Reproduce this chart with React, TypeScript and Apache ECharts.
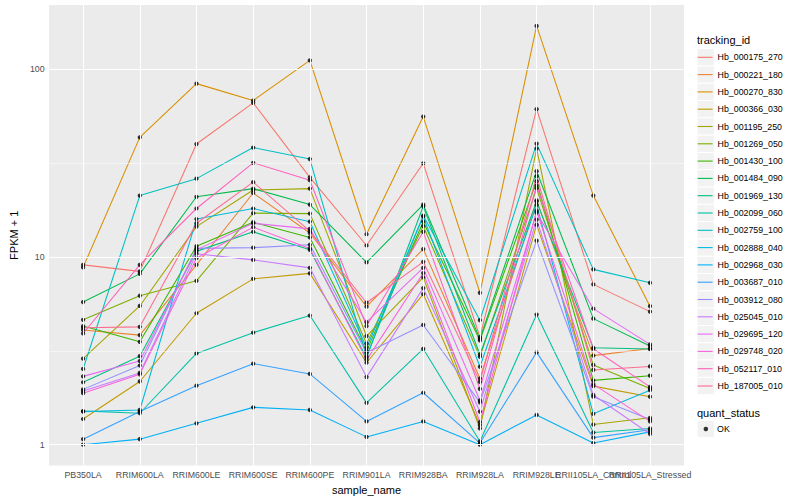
import React, { useEffect, useRef } from "react";
import * as echarts from "echarts";

const categories = [
  "PB350LA", "RRIM600LA", "RRIM600LE", "RRIM600SE", "RRIM600PE", "RRIM901LA",
  "RRIM928BA", "RRIM928LA", "RRIM928LE", "RRII105LA_Control", "RRII105LA_Stressed",
];

const trackingIds = [
  "Hb_000175_270", "Hb_000221_180", "Hb_000270_830", "Hb_000366_030", "Hb_001195_250",
  "Hb_001269_050", "Hb_001430_100", "Hb_001484_090", "Hb_001969_130", "Hb_002099_060",
  "Hb_002759_100", "Hb_002888_040", "Hb_002968_030", "Hb_003687_010", "Hb_003912_080",
  "Hb_025045_010", "Hb_029695_120", "Hb_029748_020", "Hb_052117_010", "Hb_187005_010",
];

const palette = [
  "#F8766D", "#EA8331", "#D89000", "#C09B00", "#A3A500", "#7CAE00", "#39B600", "#00BB4E",
  "#00BF7D", "#00C1A3", "#00BFC4", "#00BAE0", "#00B0F6", "#35A2FF", "#9590FF", "#C77CFF",
  "#E76BF3", "#FA62DB", "#FF62BC", "#FF6C91",
];

// FPKM + 1 values, one array per tracking_id, in category order
const hb_000175_270 = [9.07, 8.37, 39.9, 66.1, 26.5, 11.5, 31.5, 3.74, 61.2, 7.14, 5.11];
const hb_000221_180 = [4.08, 3.83, 9.07, 21.9, 13.4, 5.43, 11.0, 2.25, 20.0, 2.98, 3.25];
const hb_000270_830 = [8.79, 43.3, 83.7, 68.0, 111.3, 13.2, 55.9, 6.44, 169.8, 21.2, 5.46];
const hb_000366_030 = [1.37, 2.17, 5.01, 7.64, 8.17, 2.73, 6.34, 1.27, 14.8, 2.05, 1.80];
const hb_001195_250 = [2.87, 5.48, 14.5, 22.7, 23.1, 3.78, 7.78, 1.22, 37.7, 1.28, 1.39];
const hb_001269_050 = [4.62, 6.21, 7.46, 17.1, 17.0, 3.45, 14.6, 2.94, 23.2, 2.66, 1.99];
const hb_001430_100 = [4.28, 3.53, 11.4, 15.3, 12.7, 3.15, 15.4, 3.59, 25.3, 2.20, 2.33];
const hb_001484_090 = [5.75, 8.12, 20.9, 23.1, 19.0, 9.34, 18.96, 3.66, 28.6, 4.69, 3.35];
const hb_001969_130 = [2.15, 2.96, 10.7, 13.6, 10.9, 2.9, 18.6, 3.02, 19.7, 3.28, 3.23];
const hb_002099_060 = [1.51, 1.47, 3.06, 3.95, 4.87, 1.67, 3.24, 1.04, 4.93, 1.16, 1.22];
const hb_002759_100 = [2.53, 21.2, 26.1, 38.2, 33.2, 2.96, 16.6, 4.60, 40.1, 8.58, 7.28];
const hb_002888_040 = [1.50, 1.53, 15.9, 18.1, 15.4, 3.28, 16.4, 2.60, 18.9, 1.46, 1.95];
const hb_002968_030 = [1.0, 1.07, 1.30, 1.58, 1.53, 1.10, 1.33, 1.0, 1.44, 1.02, 1.17];
const hb_003687_010 = [1.07, 1.50, 2.06, 2.70, 2.38, 1.33, 1.89, 1.02, 3.10, 1.09, 1.20];
const hb_003912_080 = [1.97, 2.64, 11.1, 11.2, 11.6, 3.09, 4.34, 1.68, 12.2, 1.80, 1.36];
const hb_025045_010 = [1.93, 2.41, 10.4, 9.64, 8.74, 2.29, 6.82, 1.50, 15.8, 1.84, 1.14];
const hb_029695_120 = [2.31, 2.79, 10.9, 15.1, 14.1, 4.49, 8.74, 1.72, 17.2, 5.30, 3.42];
const hb_029748_020 = [1.88, 2.37, 9.84, 14.4, 11.1, 2.82, 8.20, 1.32, 17.6, 2.10, 1.33];
const hb_052117_010 = [3.91, 9.07, 18.1, 31.7, 25.6, 4.28, 13.6, 1.98, 24.0, 3.24, 2.03];
const hb_187005_010 = [4.19, 4.24, 15.1, 25.0, 13.7, 5.70, 9.41, 2.16, 26.9, 2.50, 2.61];

const seriesValues = [
  hb_000175_270, hb_000221_180, hb_000270_830, hb_000366_030, hb_001195_250,
  hb_001269_050, hb_001430_100, hb_001484_090, hb_001969_130, hb_002099_060,
  hb_002759_100, hb_002888_040, hb_002968_030, hb_003687_010, hb_003912_080,
  hb_025045_010, hb_029695_120, hb_029748_020, hb_052117_010, hb_187005_010,
];

const yTickValues = [1, 10, 100];
const quantStatus = ["OK"];

export default function App() {
  const ref = useRef<HTMLDivElement>(null);

  useEffect(() => {
    if (!ref.current) return;
    const chart = echarts.init(ref.current, null, { renderer: "svg" });
    const font = '"Liberation Sans", Arial, Helvetica, sans-serif';

    const logs = seriesValues.flat().map((v) => Math.log10(v));
    const lo = Math.min(...logs);
    const hi = Math.max(...logs);
    const pad = (hi - lo) * 0.05;
    const yMin = lo - pad;
    const yMax = hi + pad;

    const majorY = yTickValues.map((v) => Math.log10(v));
    const minorY: number[] = [];
    for (let i = 0; i < majorY.length - 1; i++) minorY.push((majorY[i] + majorY[i + 1]) / 2);
    const xIdx = categories.map((_, i) => i);
    // ECharts drops one of two overlapping end labels on a single axis, so the
    // second-to-last category label is carried by a twin axis (same scale).
    const twinIdx = [categories.length - 2];
    const mainIdx = xIdx.filter((i) => !twinIdx.includes(i));

    const gridLines = [
      ...minorY.map((v) => ({ yAxis: v, lineStyle: { width: 0.53 } })),
      ...majorY.map((v) => ({ yAxis: v, lineStyle: { width: 1.07 } })),
      ...xIdx.map((i) => ({ xAxis: i, lineStyle: { width: 1.07 } })),
    ];

    const lineSeries = seriesValues.map((vals, s) => ({
      name: trackingIds[s],
      type: "line",
      z: 2,
      data: vals.map((v, i) => [i, Math.log10(v)]),
      symbol: "none",
      lineStyle: { color: palette[s], width: 1.07 },
      itemStyle: { color: palette[s] },
      emphasis: { disabled: true },
      silent: true,
    }));

    const points: number[][] = [];
    seriesValues.forEach((vals) => vals.forEach((v, i) => points.push([i, Math.log10(v)])));

    const keyTop0 = 48.65;
    const keyStep = 17.3;
    const keyRects = trackingIds.map((_, i) => ({
      type: "rect",
      z: 0,
      shape: { x: 697, y: keyTop0 + i * keyStep, width: 17.3, height: 17.3 },
      style: { fill: "#F2F2F2", stroke: "#FFFFFF", lineWidth: 1 },
      silent: true,
    }));

    const xLabelStyle = {
      show: true,
      formatter: (v: number) => categories[Math.round(v)] ?? "",
      fontFamily: font,
      fontSize: 8.8,
      color: "#4D4D4D",
      margin: 4.5,
      hideOverlap: false,
      showMinLabel: true,
      showMaxLabel: true,
    };

    chart.setOption({
      animation: false,
      backgroundColor: "#FFFFFF",
      textStyle: { fontFamily: font },
      grid: {
        left: 40,
        top: 5,
        width: 644,
        height: 463,
        show: true,
        backgroundColor: "#EBEBEB",
        borderWidth: 0,
      },
      xAxis: [
        {
          type: "value",
          position: "bottom",
          min: -0.6,
          max: categories.length - 1 + 0.6,
          name: "sample_name",
          nameLocation: "middle",
          nameGap: 15,
          nameTextStyle: { fontFamily: font, fontSize: 11, color: "#000000" },
          axisLine: { show: false },
          axisTick: {
            show: true,
            customValues: xIdx,
            length: 2.75,
            lineStyle: { color: "#333333", width: 1.07 },
          },
          axisLabel: { ...xLabelStyle, customValues: mainIdx },
          splitLine: { show: false },
        },
        {
          type: "value",
          position: "bottom",
          min: -0.6,
          max: categories.length - 1 + 0.6,
          axisLine: { show: false },
          axisTick: { show: false },
          axisLabel: { ...xLabelStyle, customValues: twinIdx },
          splitLine: { show: false },
        },
      ],
      yAxis: {
        type: "value",
        min: yMin,
        max: yMax,
        name: "FPKM + 1",
        nameLocation: "middle",
        nameRotate: 90,
        nameGap: 22,
        nameTextStyle: { fontFamily: font, fontSize: 11, color: "#000000" },
        axisLine: { show: false },
        axisTick: {
          show: true,
          customValues: majorY,
          length: 2.75,
          lineStyle: { color: "#333333", width: 1.07 },
        },
        axisLabel: {
          show: true,
          customValues: majorY,
          formatter: (v: number) => String(Math.round(Math.pow(10, v))),
          fontFamily: font,
          fontSize: 8.8,
          color: "#4D4D4D",
          margin: 4.5,
          showMinLabel: true,
          showMaxLabel: true,
        },
        splitLine: { show: false },
      },
      legend: [
        {
          orient: "vertical",
          left: 697.6,
          top: keyTop0 + 0.15,
          padding: 0,
          itemGap: 0.3,
          itemWidth: 15,
          itemHeight: 1.1,
          icon: "rect",
          selectedMode: false,
          z: 10,
          textStyle: { fontFamily: font, fontSize: 8.8, color: "#000000", lineHeight: 17 },
          data: trackingIds.map((id, i) => ({ name: id, itemStyle: { color: palette[i] } })),
        },
        {
          orient: "vertical",
          left: 703.6,
          top: 420.5,
          padding: 0,
          itemWidth: 4.5,
          itemHeight: 4.5,
          icon: "circle",
          selectedMode: false,
          z: 10,
          textStyle: { fontFamily: font, fontSize: 8.8, color: "#000000", lineHeight: 17, padding: [0, 0, 0, 4] },
          data: quantStatus.map((q) => ({ name: q, itemStyle: { color: "#000000" } })),
        },
      ],
      graphic: [
        ...keyRects,
        {
          type: "rect",
          z: 0,
          shape: { x: 697, y: 420.35, width: 17.3, height: 17.3 },
          style: { fill: "#F2F2F2", stroke: "#FFFFFF", lineWidth: 1 },
          silent: true,
        },
        {
          type: "text",
          z: 10,
          x: 697,
          y: 40,
          style: {
            text: "tracking_id",
            fontFamily: font,
            fontSize: 11,
            fill: "#000000",
            textVerticalAlign: "middle",
            verticalAlign: "middle",
          },
        },
        {
          type: "text",
          z: 10,
          x: 697,
          y: 412.5,
          style: {
            text: "quant_status",
            fontFamily: font,
            fontSize: 11,
            fill: "#000000",
            textVerticalAlign: "middle",
            verticalAlign: "middle",
          },
        },
      ],
      series: [
        {
          name: "__grid",
          type: "line",
          z: 1,
          data: [],
          silent: true,
          markLine: {
            silent: true,
            symbol: ["none", "none"],
            label: { show: false },
            emphasis: { disabled: true },
            lineStyle: { color: "#FFFFFF", type: "solid" },
            data: gridLines,
          },
        },
        ...lineSeries,
        {
          name: "OK",
          type: "scatter",
          z: 3,
          data: points,
          symbol: "circle",
          symbolSize: 4.3,
          itemStyle: { color: "#000000" },
          emphasis: { disabled: true },
          silent: true,
        },
      ],
    });

    return () => chart.dispose();
  }, []);

  return (
    <div
      ref={ref}
      style={{ position: "fixed", left: 0, top: 0, width: 800, height: 500 }}
    />
  );
}
